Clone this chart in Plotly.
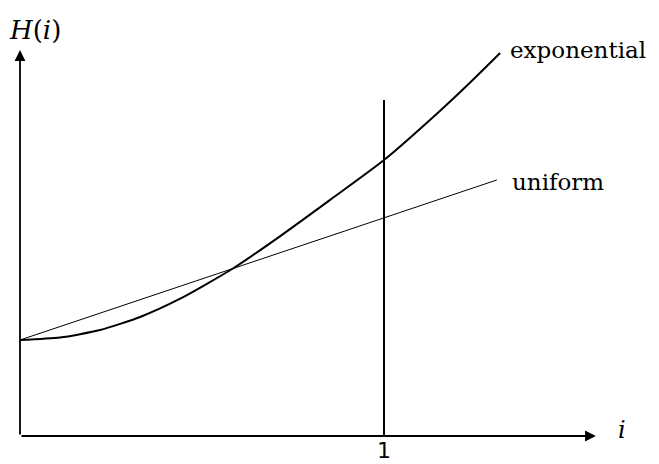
import plotly.graph_objects as go

# exponential curve
exp_i = [0.0, 0.11, 0.22, 0.33, 0.44, 0.585, 0.714, 0.852, 1.0, 1.146, 1.236, 1.319]
exp_h = [1.0, 1.026, 1.104, 1.24, 1.43, 1.745, 2.08, 2.46, 2.875, 3.36, 3.68, 3.99]

# uniform line
uni_i = [0.0, 1.31]
uni_h = [1.0, 2.667]

# vertical marker at i = 1
mark_i = [1.0, 1.0]
mark_h = [0.0, 3.5]

tick_i = [1]
tick_text = ["1"]

fig = go.Figure()

fig.add_trace(go.Scatter(x=exp_i, y=exp_h, mode="lines",
                         line=dict(color="black", width=2, shape="spline", smoothing=0.6),
                         cliponaxis=False, showlegend=False, hoverinfo="skip"))
fig.add_trace(go.Scatter(x=uni_i, y=uni_h, mode="lines", line=dict(color="black", width=1),
                         cliponaxis=False, showlegend=False, hoverinfo="skip"))
fig.add_trace(go.Scatter(x=mark_i, y=mark_h, mode="lines", line=dict(color="black", width=2),
                         cliponaxis=False, showlegend=False, hoverinfo="skip"))

serif = "DejaVu Serif"

# axes with arrowheads
fig.add_annotation(x=1.582, y=0, ax=0, ay=0, xref="x", yref="y", axref="x", ayref="y",
                   text="", showarrow=True, arrowhead=2, arrowsize=1.2, arrowwidth=1.8, arrowcolor="black")
fig.add_annotation(x=0, y=4.02, ax=0, ay=0, xref="x", yref="y", axref="x", ayref="y",
                   text="", showarrow=True, arrowhead=2, arrowsize=1.2, arrowwidth=1.8, arrowcolor="black")

labels = [
    dict(x=1.34, y=4.02, text="exponential", xanchor="left", size=23),
    dict(x=1.345, y=2.65, text="uniform", xanchor="left", size=23),
    dict(x=-0.035, y=4.23, text="<i>H</i>(<i>i</i>)", xanchor="left", size=26),
    dict(x=1.655, y=0.06, text="<i>i</i>", xanchor="center", size=24),
]
for lb in labels:
    fig.add_annotation(x=lb["x"], y=lb["y"], xref="x", yref="y", text=lb["text"], showarrow=False,
                       xanchor=lb["xanchor"], yanchor="middle",
                       font=dict(family=serif, size=lb["size"], color="black"))

for v, t in zip(tick_i, tick_text):
    fig.add_annotation(x=v, y=-0.27, xref="x", yref="y", text=t, showarrow=False,
                       xanchor="center", yanchor="bottom", borderpad=0, yshift=-2,
                       font=dict(family="DejaVu Sans", size=22, color="black"))

# axis ranges span the whole figure so that 20 px -> i=0 and 436 px -> H=0
fig.update_xaxes(range=[-20 / 364, 639 / 364], visible=False, automargin=False)
fig.update_yaxes(range=[-28 / 96, 436 / 96], visible=False, automargin=False)

fig.update_layout(width=659, height=464, plot_bgcolor="white", paper_bgcolor="white",
                  margin=dict(l=0, r=0, t=0, b=0), showlegend=False)

# drop the default page margin so the figure sits at the top-left corner
fig.write_html("out.html", config={"displayModeBar": False},
               post_script="document.body.style.margin='0';")
